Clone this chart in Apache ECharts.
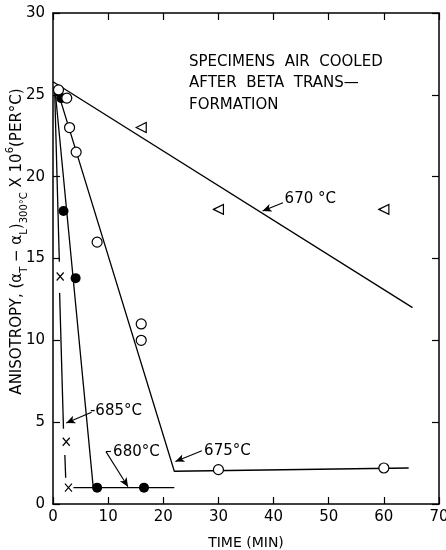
<!DOCTYPE html>
<html>
<head>
<meta charset="utf-8">
<script src="https://cdn.jsdelivr.net/npm/echarts@6/dist/echarts.min.js"></script>
<style>
  html, body { margin: 0; padding: 0; background: #fff; }
  #chart { width: 446px; height: 550px; }
</style>
</head>
<body>
<div id="chart"></div>
<script>
// Measured anisotropy (x 10^6 per °C) vs. isothermal hold time (min)
const time670 = [16, 30, 60];
const aniso670 = [23, 18, 18];

const time675 = [1, 2.5, 3, 4.2, 8, 16, 16, 30, 60];
const aniso675 = [25.3, 24.8, 23, 21.5, 16, 11, 10, 2.1, 2.2];

const time680 = [1.5, 1.9, 4.1, 8, 16.5];
const aniso680 = [24.8, 17.9, 13.8, 1, 1];

const time685 = [1.3, 2.4, 2.8];
const aniso685 = [13.9, 3.8, 1];

// Hand-drawn trend lines, broken where they pass the X marks
const fit670 = [[[0, 25.8], [65.2, 12.0]]];
const fit675 = [[[0.6, 25.5], [22, 2.0], [64.5, 2.2]]];
const fit680 = [[[0.4, 25.2], [7.3, 1.0], [22, 1.0]]];
const fit685 = [
  [[0.3, 25.3], [1.15, 14.8]],
  [[1.2, 12.9], [1.9, 4.6]],
  [[2.15, 3.0], [2.3, 1.6]],
  [[3.7, 1.0], [7.3, 1.0]]
];

// Temperature callouts: label anchor and arrow (from -> to)
const calloutText = ['670 °C', '675°C', '680°C', '-685°C'];
const calloutAt = [[42.0, 18.6], [27.4, 3.25], [10.9, 3.2], [6.7, 5.7]];
const arrowFrom = [[41.7, 18.4], [27.0, 3.25], [9.6, 3.2], [7.0, 5.6]];
const arrowTo = [[38.0, 17.9], [22.2, 2.6], [13.6, 1.05], [2.4, 4.95]];
const hookFrom = [10.5, 3.2];

const xTicks = { min: 0, max: 70, interval: 10 };
const yTicks = { min: 0, max: 30, interval: 5 };

const FONT = '"DejaVu Sans", "Liberation Sans", sans-serif';
const zip = (xs, ys) => xs.map((x, i) => [x, ys[i]]);

const chart = echarts.init(document.getElementById('chart'), null, { renderer: 'canvas' });

const lineStyle = { color: '#000', width: 1.3 };
const fitSeries = [];
[fit670, fit675, fit680, fit685].forEach(group => {
  group.forEach(seg => {
    fitSeries.push({
      type: 'line', data: seg, symbol: 'none', lineStyle: lineStyle,
      silent: true, z: 2, animation: false
    });
  });
});

const openStyle = { color: '#fff', borderColor: '#000', borderWidth: 1.2, opacity: 1 };

const markSeries = [
  { type: 'scatter', data: zip(time670, aniso670), symbol: 'path://M0,5L9,0L9,10Z',
    symbolSize: [10, 10], itemStyle: openStyle, z: 5 },
  { type: 'scatter', data: zip(time675, aniso675), symbol: 'circle',
    symbolSize: 10, itemStyle: openStyle, z: 5 },
  { type: 'scatter', data: zip(time680, aniso680), symbol: 'circle',
    symbolSize: 10, itemStyle: { color: '#000', opacity: 1 }, z: 4 },
  { type: 'scatter', data: zip(time685, aniso685), symbol: 'path://M0,0L10,10M10,0L0,10',
    symbolSize: [7, 8],
    itemStyle: { color: 'transparent', borderColor: '#000', borderWidth: 1.3, opacity: 1 }, z: 5 }
];

const arrowLines = arrowFrom.map((p, i) => [
  { coord: p, symbol: 'none' },
  { coord: arrowTo[i], symbol: 'arrow' }
]);
arrowLines.push([{ coord: hookFrom, symbol: 'none' }, { coord: arrowFrom[2], symbol: 'none' }]);

const calloutSeries = {
  type: 'scatter',
  data: calloutText.map((t, i) => ({ name: t, value: calloutAt[i] })),
  symbolSize: 0,
  silent: true,
  z: 6,
  itemStyle: { opacity: 1 },
  label: {
    show: true, position: 'right', distance: 0, formatter: '{b}',
    color: '#000', fontSize: 15, fontFamily: FONT, opacity: 1
  },
  markLine: {
    silent: true, animation: false,
    symbolSize: [6, 9],
    label: { show: false },
    lineStyle: { color: '#000', width: 1.1, type: 'solid', opacity: 1 },
    data: arrowLines
  }
};

const tickLabel = { color: '#000', fontSize: 15, fontFamily: FONT };

chart.setOption({
  animation: false,
  backgroundColor: '#fff',
  grid: { left: 53, right: 7, top: 13, bottom: 46, containLabel: false, outerBoundsMode: 'none' },
  xAxis: [
    Object.assign({
      type: 'value', position: 'bottom',
      name: 'TIME (MIN)', nameLocation: 'middle', nameGap: 32, nameMoveOverlap: false,
      nameTextStyle: { color: '#000', fontSize: 14, fontFamily: FONT },
      axisLine: { show: true, onZero: false, lineStyle: { color: '#000', width: 1.5 } },
      axisTick: { show: true, inside: true, length: 7, lineStyle: { color: '#000', width: 1.2 } },
      axisLabel: Object.assign({ margin: 6 }, tickLabel),
      splitLine: { show: false }
    }, xTicks),
    Object.assign({
      type: 'value', position: 'top',
      axisLine: { show: true, onZero: false, lineStyle: { color: '#000', width: 1.5 } },
      axisTick: { show: true, inside: true, length: 7, lineStyle: { color: '#000', width: 1.2 } },
      axisLabel: { show: false },
      splitLine: { show: false }
    }, xTicks)
  ],
  yAxis: [
    Object.assign({
      type: 'value', position: 'left',
      name: 'ANISOTROPY, (α{sub|T} − α{sub|L}){sub|300°C} X 10{sup|6}(PER°C)',
      nameLocation: 'middle', nameGap: 24, nameRotate: 90, nameMoveOverlap: false,
      nameTextStyle: {
        color: '#000', fontSize: 15, fontFamily: FONT, lineHeight: 24,
        padding: [0, 0, 0, 34],
        rich: {
          sub: { fontSize: 10, fontFamily: FONT, color: '#000', lineHeight: 12, verticalAlign: 'bottom' },
          sup: { fontSize: 10, fontFamily: FONT, color: '#000', lineHeight: 12, verticalAlign: 'top' }
        }
      },
      axisLine: { show: true, onZero: false, lineStyle: { color: '#000', width: 1.5 } },
      axisTick: { show: true, inside: true, length: 7, lineStyle: { color: '#000', width: 1.2 } },
      axisLabel: Object.assign({ margin: 8 }, tickLabel),
      splitLine: { show: false }
    }, yTicks),
    Object.assign({
      type: 'value', position: 'right',
      axisLine: { show: true, onZero: false, lineStyle: { color: '#000', width: 1.5 } },
      axisTick: { show: true, inside: true, length: 7, lineStyle: { color: '#000', width: 1.2 } },
      axisLabel: { show: false },
      splitLine: { show: false }
    }, yTicks)
  ],
  graphic: [{
    type: 'text', left: 189, top: 51,
    style: {
      text: 'SPECIMENS  AIR  COOLED\nAFTER  BETA  TRANS—\nFORMATION',
      font: '15px ' + FONT, fill: '#000', lineHeight: 21.5
    }
  }],
  series: fitSeries.concat(markSeries, [calloutSeries])
});
</script>
</body>
</html>
